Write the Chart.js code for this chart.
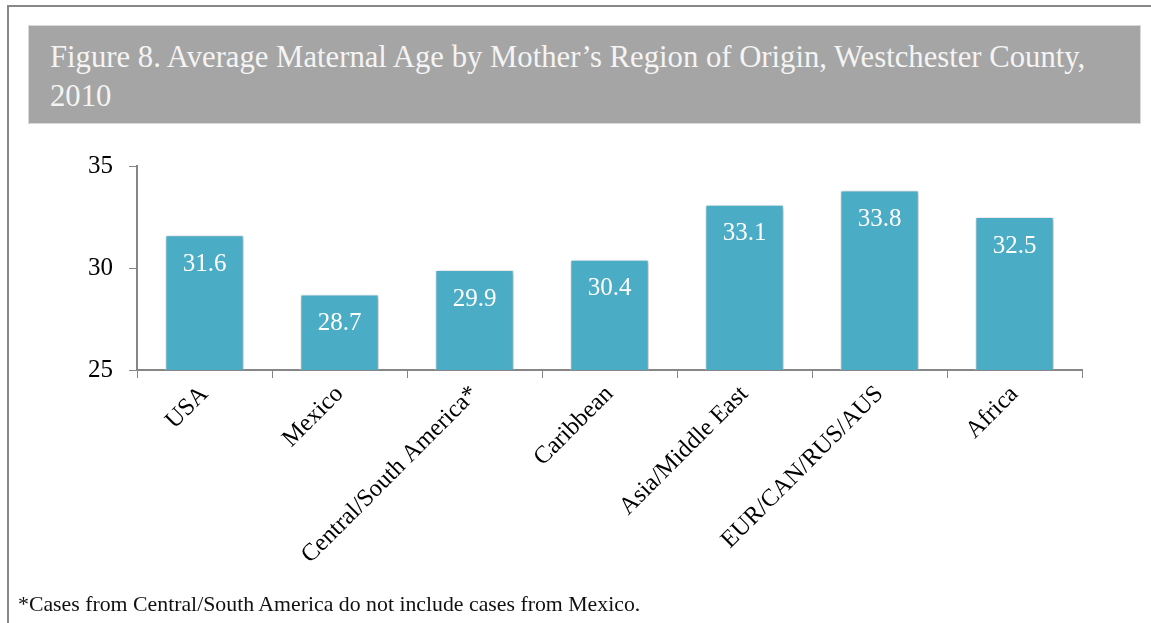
<!DOCTYPE html>
<html>
<head>
<meta charset="utf-8">
<script src="https://cdn.jsdelivr.net/npm/chart.js"></script>
<style>
  html, body { margin:0; padding:0; background:#fff; }
  body { width:1151px; height:623px; position:relative; overflow:hidden; font-family:"Liberation Serif", "DejaVu Serif", serif; }
  #frameTop { position:absolute; left:7px; top:5px; width:1144px; height:2px; background:#878787; }
  #frameLeft { position:absolute; left:7px; top:5px; width:2px; height:618px; background:#878787; }
  #titleBox { position:absolute; left:28px; top:25px; width:1113px; height:99px; background:#a5a5a5; box-sizing:border-box; border:1px solid #d9d9d9; }
  #titleText { position:absolute; left:21px; top:12px; color:#f4f4f4; font-size:30.7px; line-height:39px; white-space:nowrap; }
  #foot { position:absolute; left:18px; top:592px; font-size:21.8px; color:#111; white-space:nowrap; }
  #wrap { position:absolute; left:0; top:130px; width:1151px; height:470px; }
</style>
</head>
<body>
<div id="frameTop"></div>
<div id="frameLeft"></div>
<div id="titleBox"><div id="titleText">Figure 8. Average Maternal Age by Mother’s Region of Origin, Westchester County,<br>2010</div></div>
<div id="wrap"><canvas id="c" width="1151" height="470"></canvas></div>
<div id="foot">*Cases from Central/South America do not include cases from Mexico.</div>
<script>
const categories = ["USA", "Mexico", "Central/South America*", "Caribbean", "Asia/Middle East", "EUR/CAN/RUS/AUS", "Africa"];
const values = [31.6, 28.7, 29.9, 30.4, 33.1, 33.8, 32.5];
const yTicks = [25, 30, 35];

const serif = '"Liberation Serif", "DejaVu Serif", serif';

const shadowPlugin = {
  id: 'barShadow',
  beforeDatasetDraw(chart) {
    const ctx = chart.ctx;
    ctx.save();
    ctx.shadowColor = 'rgba(0,0,0,0.35)';
    ctx.shadowBlur = 4;
    ctx.shadowOffsetX = 1;
    ctx.shadowOffsetY = 1;
  },
  afterDatasetDraw(chart) {
    chart.ctx.restore();
  }
};

const labelPlugin = {
  id: 'barLabels',
  afterDatasetsDraw(chart) {
    const ctx = chart.ctx;
    const meta = chart.getDatasetMeta(0);
    ctx.save();
    ctx.fillStyle = '#ffffff';
    ctx.font = '25px ' + serif;
    ctx.textAlign = 'center';
    ctx.textBaseline = 'middle';
    meta.data.forEach((bar, i) => {
      ctx.fillText(values[i].toFixed(1), bar.x, bar.y + 29);
    });
    ctx.restore();
  }
};

new Chart(document.getElementById('c'), {
  type: 'bar',
  data: {
    labels: categories,
    datasets: [{
      data: values,
      backgroundColor: '#4bacc6',
      borderColor: '#ffffff',
      borderWidth: 1,
      barPercentage: 0.58,
      categoryPercentage: 1.0
    }]
  },
  options: {
    responsive: false,
    animation: false,
    layout: { padding: { top: 36, right: 69, left: 0, bottom: 0 } },
    plugins: { legend: { display: false }, tooltip: { enabled: false } },
    scales: {
      x: {
        grid: { display: true, drawOnChartArea: false, drawTicks: true, tickLength: 8, color: '#868686', offset: true },
        border: { display: true, color: '#868686', width: 2 },
        ticks: { color: '#000', font: { family: serif, size: 24.5 }, maxRotation: 45, minRotation: 45, padding: 2 },
        afterFit(scale) { scale.height = 230; }
      },
      y: {
        min: 25, max: 35,
        afterBuildTicks(scale) { scale.ticks = yTicks.map(v => ({ value: v })); },
        grid: { display: true, drawOnChartArea: false, drawTicks: true, tickLength: 8, color: '#868686' },
        border: { display: true, color: '#868686', width: 2 },
        ticks: { color: '#000', font: { family: serif, size: 25 }, padding: 16 },
        afterFit(scale) { scale.width = 137; }
      }
    }
  },
  plugins: [shadowPlugin, labelPlugin]
});
</script>
</body>
</html>
